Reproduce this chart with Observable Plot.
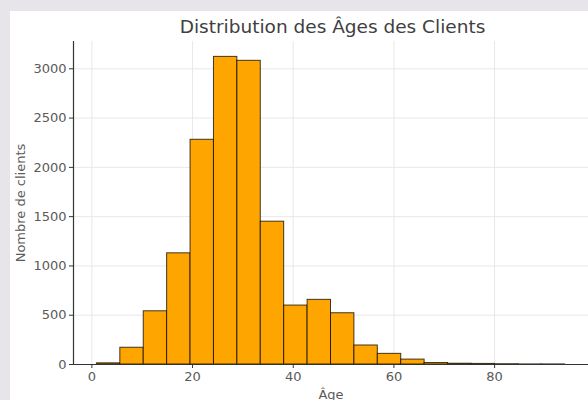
<!DOCTYPE html>
<html>
<head>
<meta charset="utf-8">
<script src="https://cdn.jsdelivr.net/npm/d3@7"></script>
<script src="https://cdn.jsdelivr.net/npm/@observablehq/plot@0.6"></script>
<style>
  html, body { margin: 0; padding: 0; }
  body { width: 588px; height: 400px; background: #e7e4ea; position: relative; overflow: hidden; font-family: "DejaVu Sans", sans-serif; }
  #card { position: absolute; left: 10px; top: 11px; width: 578px; height: 389px; background: #ffffff; }
  #title { position: absolute; left: 75px; width: 515px; top: 16px; text-align: center; font-size: 18.5px; color: #404040; line-height: 22px; white-space: nowrap; }
  #chart { position: absolute; left: 0; top: 0; }
</style>
</head>
<body>
<div id="card"></div>
<div id="title">Distribution des Âges des Clients</div>
<div id="chart"></div>
<script>
// Histogram bin edges (years) and counts
const binEdges = [1, 5.65, 10.3, 14.95, 19.6, 24.25, 28.9, 33.55, 38.2, 42.85, 47.5, 52.15, 56.8, 61.45, 66.1, 70.75, 75.4, 80.05, 84.7, 89.35, 94];
const counts = [12, 170, 540, 1128, 2280, 3121, 3081, 1449, 598, 656, 520, 193, 108, 50, 15, 8, 6, 3, 1, 1];
const xTicks = [0, 20, 40, 60, 80];
const yTicks = [0, 500, 1000, 1500, 2000, 2500, 3000];

const bins = counts.map((c, i) => ({x1: binEdges[i], x2: binEdges[i + 1], count: c}));

const xDomain = [-3.65, 98.65];
const yDomain = [0, 3277];

const chart = Plot.plot({
  width: 588,
  height: 400,
  marginLeft: 73,
  marginRight: 0,
  marginTop: 41,
  marginBottom: 36,
  style: {background: "transparent", fontFamily: "DejaVu Sans, sans-serif", fontSize: "13px", color: "#5a5a5a"},
  x: {domain: xDomain},
  y: {domain: yDomain},
  marks: [
    Plot.gridX(xTicks, {stroke: "#e8e8e8", strokeOpacity: 1}),
    Plot.gridY(yTicks, {stroke: "#e8e8e8", strokeOpacity: 1}),
    Plot.rectY(bins, {x1: "x1", x2: "x2", y1: 0, y2: "count", fill: "#FFA500", stroke: "#000", strokeOpacity: 0.75, strokeWidth: 1, inset: 0}),
    Plot.ruleX([xDomain[0]], {y1: yDomain[0], y2: yDomain[1], stroke: "#333", strokeWidth: 1.2}),
    Plot.ruleY([0], {x1: xDomain[0], x2: xDomain[1], stroke: "#333", strokeWidth: 1.2}),
    Plot.axisX(xTicks, {tickSize: 4, tickPadding: 3, stroke: "#333", fill: "#5a5a5a", fontSize: 13, tickFormat: d => String(d), label: "Âge", labelAnchor: "center", labelArrow: "none", labelOffset: 34}),
    Plot.axisY(yTicks, {tickSize: 4, tickPadding: 3, stroke: "#333", fill: "#5a5a5a", fontSize: 13, tickFormat: d => String(d), label: "Nombre de clients", labelAnchor: "center", labelArrow: "none", labelOffset: 58})
  ]
});
document.getElementById("chart").appendChild(chart);
</script>
</body>
</html>
